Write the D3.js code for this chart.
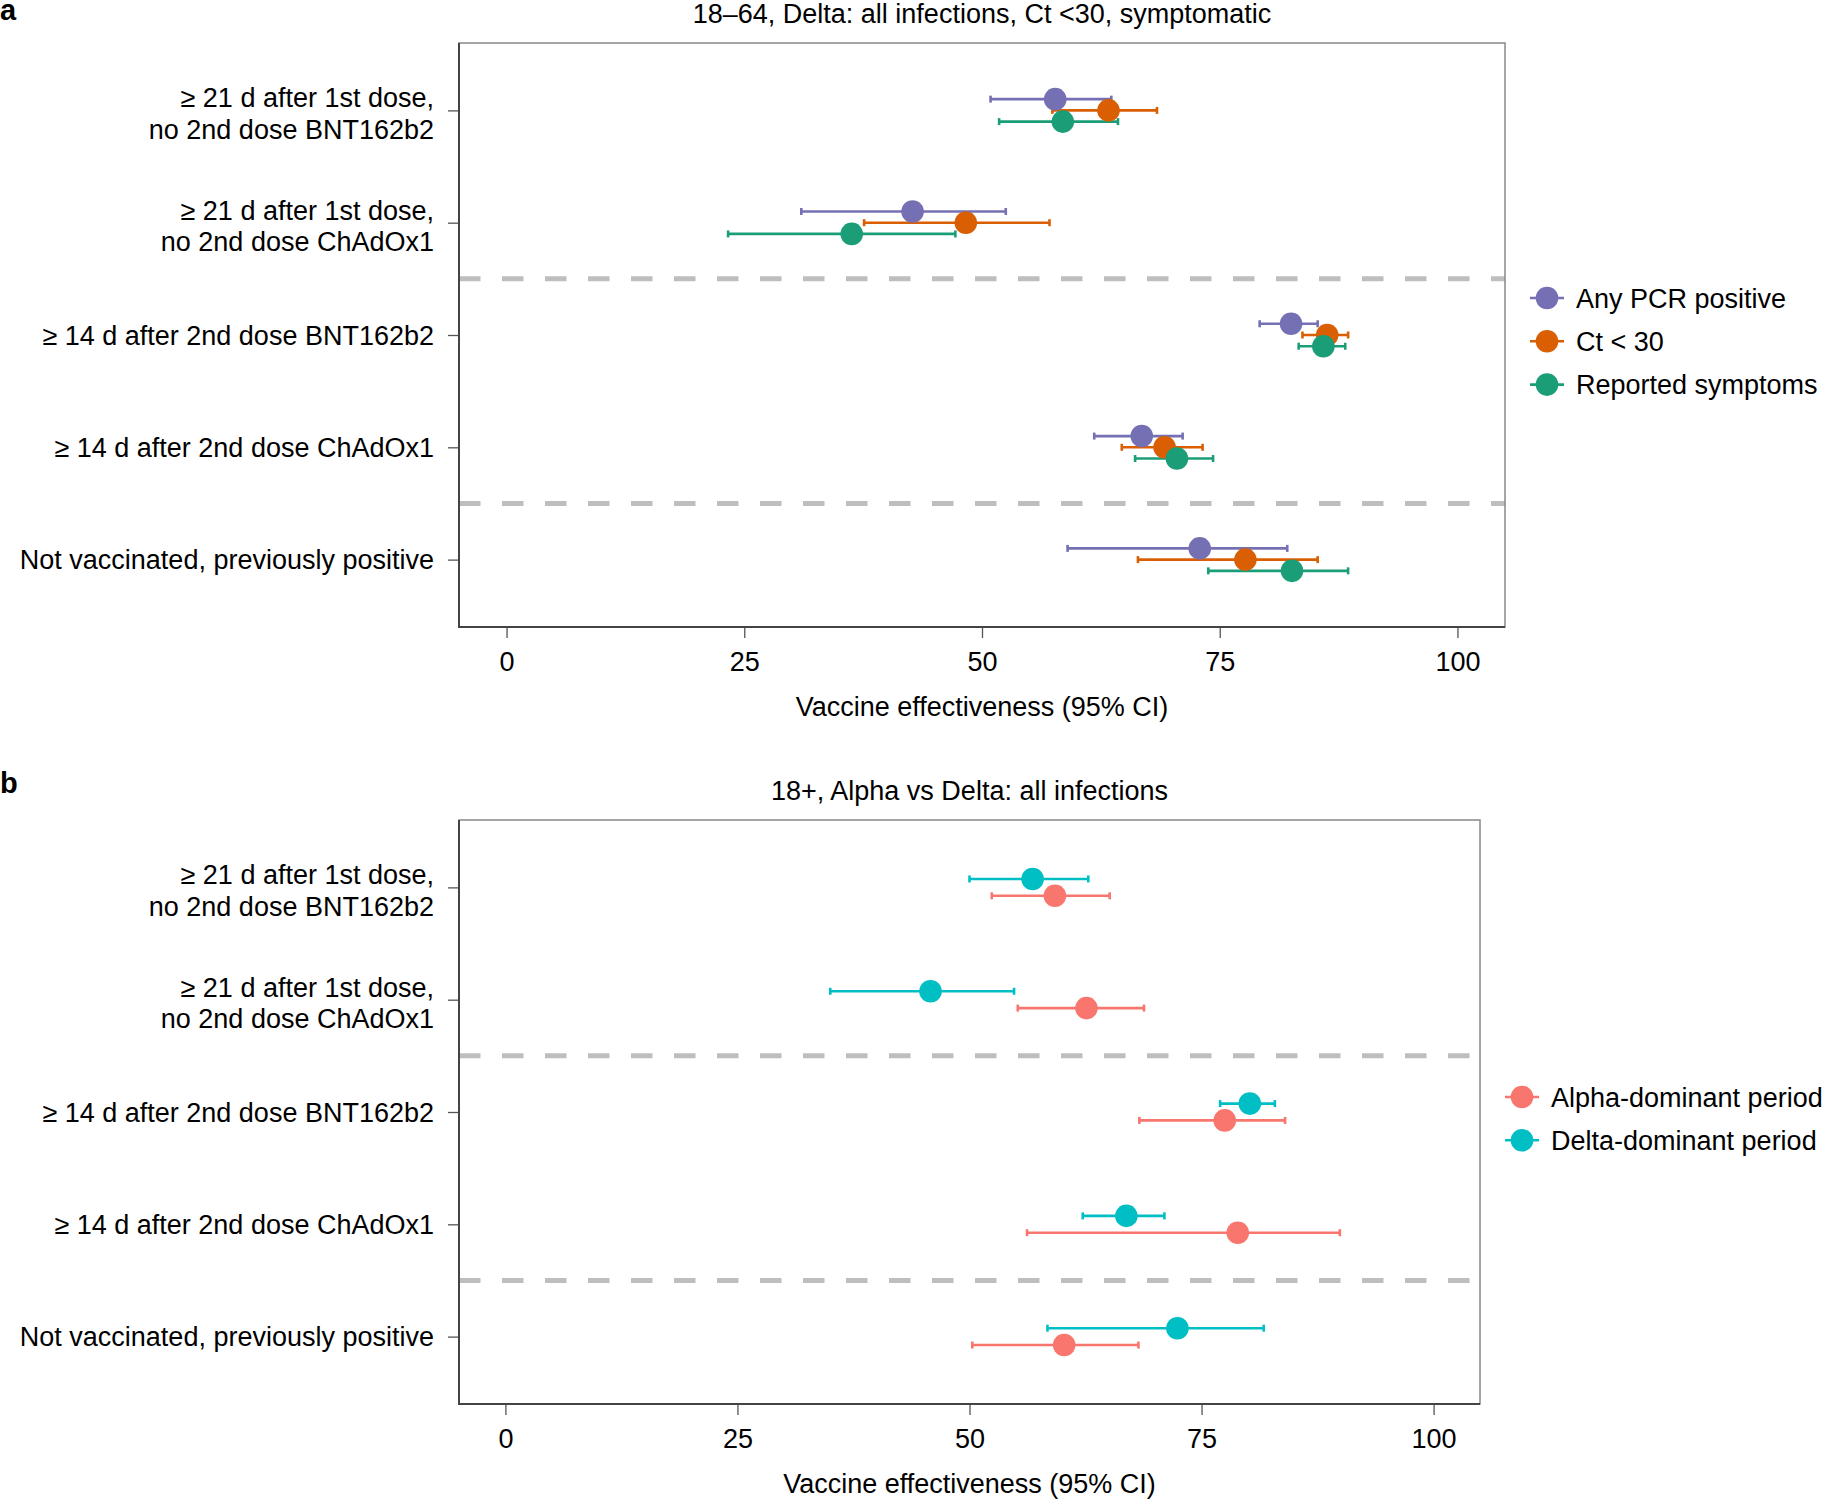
<!DOCTYPE html>
<html>
<head>
<meta charset="utf-8">
<script src="https://cdn.jsdelivr.net/npm/d3@7"></script>
<style>
  body { margin: 0; background: #fff; }
  text { font-family: "Liberation Sans", Arial, sans-serif; fill: #000; }
</style>
</head>
<body>
<div id="chart"></div>
<script>
// row labels (top to bottom), each split into lines
const categories = [
  ["≥ 21 d after 1st dose,", "no 2nd dose BNT162b2"],
  ["≥ 21 d after 1st dose,", "no 2nd dose ChAdOx1"],
  ["≥ 14 d after 2nd dose BNT162b2"],
  ["≥ 14 d after 2nd dose ChAdOx1"],
  ["Not vaccinated, previously positive"]
];
const xTicks = [0, 25, 50, 75, 100];

// panel a
const seriesA = ["Any PCR positive", "Ct < 30", "Reported symptoms"];
const colorsA = ["#7570B3", "#D95F02", "#1B9E77"];
const anyPcr    = [57.7, 42.7, 82.5, 66.8, 72.9];
const anyPcrLo  = [50.9, 31.0, 79.2, 61.8, 59.0];
const anyPcrHi  = [63.6, 52.5, 85.3, 71.1, 82.1];
const ct30      = [63.3, 48.3, 86.3, 69.2, 77.7];
const ct30Lo    = [57.4, 37.6, 83.7, 64.7, 66.4];
const ct30Hi    = [68.4, 57.1, 88.5, 73.2, 85.3];
const sympt     = [58.5, 36.3, 85.9, 70.5, 82.6];
const symptLo   = [51.8, 23.3, 83.3, 66.1, 73.8];
const symptHi   = [64.3, 47.2, 88.2, 74.3, 88.5];

// panel b
const seriesB = ["Alpha-dominant period", "Delta-dominant period"];
const colorsB = ["#F8766D", "#00BFC4"];
const alpha    = [59.2, 62.6, 77.5, 78.9, 60.2];
const alphaLo  = [52.4, 55.2, 68.3, 56.2, 50.3];
const alphaHi  = [65.1, 68.8, 84.0, 89.9, 68.2];
const delta    = [56.8, 45.8, 80.2, 66.9, 72.4];
const deltaLo  = [50.0, 35.0, 77.0, 62.2, 58.4];
const deltaHi  = [62.8, 54.8, 82.9, 71.0, 81.7];

const svg = d3.select("#chart").append("svg")
  .attr("width", 1822)
  .attr("height", 1503);

svg.append("rect").attr("width", 1822).attr("height", 1503).attr("fill", "#fff");

const drawPanel = (cfg) => {
  const g = svg.append("g").attr("transform", "translate(0," + cfg.top + ")");
  const left = 459, right = cfg.right, height = 584;

  const x = d3.scaleLinear().domain([-5, 105]).range([left, right]);
  const y = d3.scalePoint().domain(d3.range(categories.length)).range([0, height]).padding(0.6);
  const step = y.step();

  // panel letter and title
  g.append("text").attr("x", 0).attr("y", cfg.letterY)
    .attr("font-size", 29).attr("font-weight", "bold").text(cfg.letter);
  g.append("text").attr("x", (left + right) / 2).attr("y", -20)
    .attr("text-anchor", "middle").attr("font-size", 27).text(cfg.title);

  // separators
  [1.5, 3.5].forEach(k => {
    const yy = (y(Math.floor(k)) + y(Math.ceil(k))) / 2;
    g.append("line").attr("x1", left).attr("x2", right).attr("y1", yy).attr("y2", yy)
      .attr("stroke", "#BEBEBE").attr("stroke-width", 5).attr("stroke-dasharray", "21.5,21.5");
  });

  // x axis
  const xAxis = d3.axisBottom(x).tickValues(xTicks).tickSize(11).tickPadding(14);
  const ax = g.append("g").attr("transform", "translate(0," + height + ")").call(xAxis);
  ax.select(".domain").remove();
  ax.selectAll(".tick line").attr("stroke", "#555").attr("stroke-width", 1.3);
  ax.selectAll(".tick text").attr("font-size", 27).attr("font-family", "Liberation Sans, Arial, sans-serif")
    .attr("fill", "#000");

  g.append("text").attr("x", (left + right) / 2).attr("y", height + 89)
    .attr("text-anchor", "middle").attr("font-size", 27).text("Vaccine effectiveness (95% CI)");

  // y axis ticks and labels
  const yAxis = d3.axisLeft(y).tickSize(11).tickFormat("");
  const ay = g.append("g").attr("transform", "translate(" + left + ",0)").call(yAxis);
  ay.select(".domain").remove();
  ay.selectAll(".tick line").attr("stroke", "#555").attr("stroke-width", 1.3);

  categories.forEach((lines, i) => {
    const t = g.append("text").attr("text-anchor", "end").attr("font-size", 27);
    if (lines.length === 1) {
      t.append("tspan").attr("x", 434).attr("y", y(i) + 9.5).text(lines[0]);
    } else {
      t.append("tspan").attr("x", 434).attr("y", y(i) - 3).text(lines[0]);
      t.append("tspan").attr("x", 434).attr("y", y(i) + 28.5).text(lines[1]);
    }
  });

  // box
  g.append("rect").attr("x", left).attr("y", 0).attr("width", right - left).attr("height", height)
    .attr("fill", "none").attr("stroke", "#888").attr("stroke-width", 1.5);
  g.append("path").attr("d", "M" + left + ",0V" + height + "H" + right)
    .attr("fill", "none").attr("stroke", "#444").attr("stroke-width", 2);

  // dodge offsets (0.3 dodge width)
  const n = cfg.series.length;
  const off = (s) => {
    const pos = cfg.order.indexOf(s);
    return (pos - (n - 1) / 2) * (0.3 / n) * step;
  };

  const rows = [];
  cfg.series.forEach((name, s) => {
    categories.forEach((c, i) => {
      rows.push({ s: s, i: i, est: cfg.est[s][i], lo: cfg.lo[s][i], hi: cfg.hi[s][i] });
    });
  });

  const bars = g.append("g");
  rows.forEach(d => {
    const yy = y(d.i) + off(d.s);
    bars.append("line").attr("x1", x(d.lo)).attr("x2", x(d.hi)).attr("y1", yy).attr("y2", yy)
      .attr("stroke", cfg.colors[d.s]).attr("stroke-width", 2.6);
    [d.lo, d.hi].forEach(v => {
      bars.append("line").attr("x1", x(v)).attr("x2", x(v)).attr("y1", yy - 3.5).attr("y2", yy + 3.5)
        .attr("stroke", cfg.colors[d.s]).attr("stroke-width", 2.6);
    });
  });
  g.append("g").selectAll("circle").data(rows).enter().append("circle")
    .attr("cx", d => x(d.est))
    .attr("cy", d => y(d.i) + off(d.s))
    .attr("r", 11.3)
    .attr("fill", d => cfg.colors[d.s]);

  // legend
  const lg = g.append("g").attr("transform", "translate(" + (right + 42) + "," + cfg.legendY + ")");
  cfg.series.forEach((name, s) => {
    const yy = s * 43.3;
    lg.append("line").attr("x1", -17).attr("x2", 17).attr("y1", yy).attr("y2", yy)
      .attr("stroke", cfg.colors[s]).attr("stroke-width", 2.6);
    lg.append("circle").attr("cx", 0).attr("cy", yy).attr("r", 11.3).attr("fill", cfg.colors[s]);
    lg.append("text").attr("x", 29).attr("y", yy + 9.5).attr("font-size", 27).text(name);
  });
};

drawPanel({
  top: 43, right: 1505, letter: "a", letterY: -23,
  title: "18\u201364, Delta: all infections, Ct <30, symptomatic",
  series: seriesA, colors: colorsA, order: [0, 1, 2],
  est: [anyPcr, ct30, sympt], lo: [anyPcrLo, ct30Lo, symptLo], hi: [anyPcrHi, ct30Hi, symptHi],
  legendY: 255
});

drawPanel({
  top: 820, right: 1480, letter: "b", letterY: -27,
  title: "18+, Alpha vs Delta: all infections",
  series: seriesB, colors: colorsB, order: [1, 0],
  est: [alpha, delta], lo: [alphaLo, deltaLo], hi: [alphaHi, deltaHi],
  legendY: 277
});
</script>
</body>
</html>
